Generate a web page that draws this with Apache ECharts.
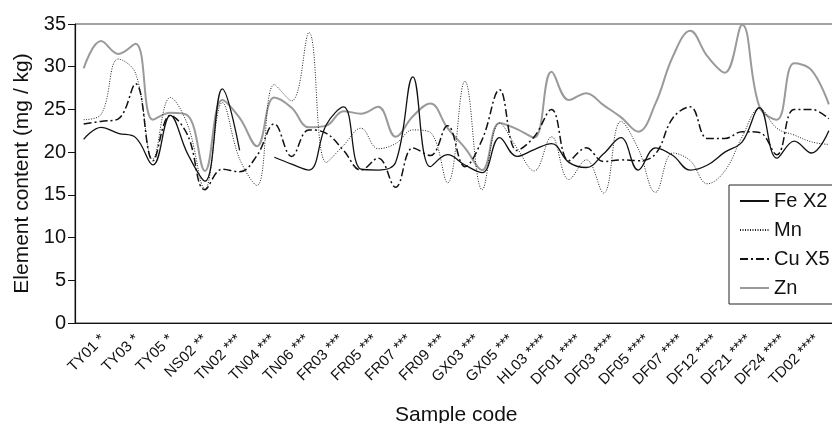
<!DOCTYPE html>
<html>
<head>
<meta charset="utf-8">
<script src="https://cdn.jsdelivr.net/npm/echarts@6/dist/echarts.min.js"></script>
<style>
  html, body { margin: 0; padding: 0; background: #fff; }
  #chart { width: 832px; height: 423px; }
</style>
</head>
<body>
<div id="chart"></div>
<script>
// sample codes, only every other one is labelled on the axis
var sampleCodes = [
  'TY01 *', 'TY02 *', 'TY03 *', 'TY04 *', 'TY05 *', 'NS01 **', 'NS02 **', 'TN01 ***',
  'TN02 ***', 'TN03 ***', 'TN04 ***', 'TN05 ***', 'TN06 ***', 'FR02 ***', 'FR03 ***', 'FR04 ***',
  'FR05 ***', 'FR06 ***', 'FR07 ***', 'FR08 ***', 'FR09 ***', 'GX02 ***', 'GX03 ***', 'GX04 ***',
  'GX05 ***', 'HL02 ****', 'HL03 ****', 'HL04 ****', 'DF01 ****', 'DF02 ****', 'DF03 ****', 'DF04 ****',
  'DF05 ****', 'DF06 ****', 'DF07 ****', 'DF10 ****', 'DF12 ****', 'DF15 ****', 'DF21 ****', 'DF22 ****',
  'DF24 ****', 'TD01 ****', 'TD02 ****', 'TD03 ****'
];
var labelCodes = sampleCodes.filter(function (c, i) { return i % 2 === 0; });

var feX2 = [21.5, 22.9, 22.2, 21.7, 18.5, 24.3, 19.8, 16.6, 27.4, 20.2, null, 19.4,
  18.6, 17.9, 23.2, 25.3, 18.0, 17.9, 18.8, 28.8, 18.3, 19.7, 18.5, 17.6,
  21.7, 19.5, 20.3, 21.0, 18.8, 18.2, 19.8, 21.7, 17.9, 20.5, 19.6, 17.9,
  18.5, 20.0, 21.2, 25.2, 19.3, 21.3, 19.9, 22.5];
var mn = [23.8, 24.4, 30.9, 29.2, 19.2, 26.4, 23.2, 15.7, 25.8, 19.2, 16.1, 27.9,
  26.0, 34.0, 18.8, 20.8, 22.8, 20.4, 21.0, 22.6, 22.3, 16.4, 28.3, 15.6,
  23.4, 20.5, 17.8, 21.8, 16.8, 19.1, 15.2, 23.6, 20.4, 15.3, 19.9, 19.0,
  16.3, 17.8, 21.8, 25.1, 22.8, 22.0, 21.2, 20.9];
var cuX5 = [23.3, 23.6, 23.9, 28.0, 19.0, 24.3, 22.0, 15.6, 18.0, 17.7, 19.6, 23.3,
  19.5, 22.6, 22.2, 20.2, 17.9, 19.3, 15.9, 20.5, 19.6, 23.1, 18.3, 21.5,
  27.3, 20.2, 21.8, 25.0, 19.0, 20.5, 18.9, 19.1, 19.0, 19.8, 24.0, 25.3,
  21.6, 21.6, 22.4, 22.3, 19.7, 25.0, 25.0, 23.9];
var zn = [29.8, 33.0, 31.5, 32.7, 23.8, 24.6, 24.3, 17.8, 26.1, 24.0, 20.7, 26.4,
  25.2, 22.9, 23.1, 24.8, 24.5, 25.3, 21.8, 24.2, 25.7, 22.8, 20.5, 17.9,
  23.4, 22.7, 21.7, 29.4, 26.1, 26.9, 25.5, 24.1, 22.4, 25.7, 31.2, 34.2,
  31.2, 29.3, 34.9, 25.3, 23.8, 30.4, 29.6, 25.6];

var font = "'Liberation Sans', Arial, Helvetica, sans-serif";
var chart = echarts.init(document.getElementById('chart'));

function lineSeries(name, data, style) {
  return {
    name: name,
    type: 'line',
    data: data,
    smooth: 0.4,
    symbol: 'none',
    connectNulls: false,
    lineStyle: style,
    itemStyle: { color: style.color },
    emphasis: { disabled: true },
    z: style.z || 2
  };
}

chart.setOption({
  animation: false,
  textStyle: { fontFamily: font },
  grid: [
    { left: 75, top: 24, width: 762.5, bottom: 100, show: true, borderColor: '#444', borderWidth: 1, outerBoundsMode: 'none' },
    { left: 86, top: 24, width: 748, bottom: 100, outerBoundsMode: 'none' }
  ],
  legend: {
    orient: 'vertical',
    left: 729,
    top: 185,
    itemWidth: 29,
    itemHeight: 14,
    itemGap: 9,
    padding: [6, 10, 6, 10],
    borderColor: '#222',
    borderWidth: 1,
    backgroundColor: '#fff',
    itemStyle: { opacity: 0 },
    textStyle: { fontSize: 20, color: '#111', fontFamily: font },
    data: ['Fe X2', 'Mn', 'Cu X5', 'Zn']
  },
  xAxis: [
    {
      type: 'category',
      gridIndex: 0,
      data: sampleCodes,
      boundaryGap: true,
      name: 'Sample code',
      nameLocation: 'middle',
      nameGap: 82,
      nameTextStyle: { fontSize: 21, color: '#111' },
      axisLine: { lineStyle: { color: '#111', width: 1.2 } },
      axisTick: { inside: true, length: 5, interval: 0, lineStyle: { color: '#111' } },
      axisLabel: { show: false },
      splitLine: { show: false }
    },
    {
      type: 'category',
      gridIndex: 1,
      data: labelCodes,
      boundaryGap: true,
      axisLine: { show: false },
      axisTick: { show: false },
      axisLabel: { interval: 0, rotate: 45, margin: 14, fontSize: 15, color: '#111' },
      splitLine: { show: false }
    }
  ],
  yAxis: [
    {
      type: 'value',
      gridIndex: 0,
      min: 0,
      max: 35,
      interval: 5,
      name: 'Element content (mg / kg)',
      nameLocation: 'middle',
      nameGap: 42,
      nameTextStyle: { fontSize: 21, color: '#111' },
      axisLine: { show: true, lineStyle: { color: '#111', width: 1.2 } },
      axisTick: { show: true, length: 7, lineStyle: { color: '#111' } },
      axisLabel: { fontSize: 20, color: '#111', margin: 9 },
      splitLine: { show: false }
    },
    { type: 'value', gridIndex: 1, show: false, min: 0, max: 35 }
  ],
  series: [
    lineSeries('Fe X2', feX2, { color: '#111', width: 1.3, type: 'solid', z: 4 }),
    lineSeries('Mn', mn, { color: '#222', width: 1, type: [1, 1.5], z: 3 }),
    lineSeries('Cu X5', cuX5, { color: '#111', width: 1.5, type: [8, 3, 2, 3], z: 3 }),
    lineSeries('Zn', zn, { color: '#9a9a9a', width: 2, type: 'solid', z: 2 })
  ]
});
</script>
</body>
</html>
